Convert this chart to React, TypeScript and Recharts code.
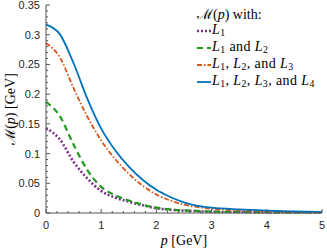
import React from 'react';
import { LineChart, Line, XAxis, YAxis, Label } from 'recharts';

// momentum grid p [GeV]
const momentum = [0, 0.25, 0.5, 0.75, 1, 1.25, 1.5, 1.75, 2, 2.25, 2.5, 2.75, 3, 3.5, 4, 4.5, 5];

// M(p) [GeV]
const withL1 = [0.143, 0.124, 0.086, 0.058, 0.037, 0.026, 0.019, 0.013, 0.008, 0.0055, 0.004, 0.003, 0.002, 0.0015, 0.001, 0.001, 0.001];
const withL1L2 = [0.187, 0.163, 0.115, 0.072, 0.044, 0.03, 0.021, 0.014, 0.009, 0.006, 0.0045, 0.0035, 0.0025, 0.0018, 0.0013, 0.001, 0.001];
const withL1L2L3 = [0.286, 0.262, 0.21, 0.162, 0.122, 0.091, 0.066, 0.046, 0.031, 0.021, 0.014, 0.01, 0.007, 0.0045, 0.003, 0.002, 0.0015];
const withL1L2L3L4 = [0.317, 0.301, 0.252, 0.192, 0.142, 0.106, 0.078, 0.056, 0.039, 0.027, 0.018, 0.012, 0.009, 0.006, 0.004, 0.0025, 0.002];

const xTicks = [0, 1, 2, 3, 4, 5];
const yTicks = [0, 0.05, 0.1, 0.15, 0.2, 0.25, 0.3, 0.35];
const yTickLabels = ['0', '0.05', '0.1', '0.15', '0.2', '0.25', '0.3', '0.35'];

const legendTitle = 'with:';
const seriesLabels = ['L1', 'L1 and L2', 'L1, L2, and L3', 'L1, L2, L3, and L4'];
const seriesKeys = ['l1', 'l12', 'l123', 'l1234'];
const seriesColors = ['#7e2f8e', '#1f9a1f', '#d95319', '#0072bd'];
const seriesDash = ['2 2', '6 4', '5 2 1.5 2', undefined];
const seriesWidth = [2.6, 2.2, 1.8, 1.8];

const data = momentum.map((p, i) => ({
  p,
  l1: withL1[i],
  l12: withL1L2[i],
  l123: withL1L2L3[i],
  l1234: withL1L2L3L4[i],
}));

const minorX: number[] = [];
for (let i = 0; i <= 25; i++) minorX.push(Math.round(i * 20) / 100);
const minorY: number[] = [];
for (let i = 0; i <= 35; i++) minorY.push(i / 100);

const frame = '#555';
const tickFont = '"Liberation Sans", Arial, sans-serif';
const serif = '"Liberation Serif", "Times New Roman", serif';

const isMajor = (v: number, list: number[]) => list.some((t) => Math.abs(t - v) < 1e-6);

const LeftTick = ({ x, y, payload }: any) => {
  const major = isMajor(payload.value, yTicks);
  const idx = yTicks.findIndex((t) => Math.abs(t - payload.value) < 1e-6);
  return (
    <g>
      <line x1={x} x2={x + (major ? 4 : 2)} y1={y} y2={y} stroke={frame} />
      {major && (
        <text x={x - 6} y={y + 4} textAnchor="end" fontSize={11} fill="#262626" fontFamily={tickFont}>
          {yTickLabels[idx]}
        </text>
      )}
    </g>
  );
};

const RightTick = ({ x, y, payload }: any) => {
  const major = isMajor(payload.value, yTicks);
  return <line x1={x - (major ? 4 : 2)} x2={x} y1={y} y2={y} stroke={frame} />;
};

const BottomTick = ({ x, y, payload }: any) => {
  const major = isMajor(payload.value, xTicks);
  return (
    <g>
      <line x1={x} x2={x} y1={y - (major ? 4 : 2)} y2={y} stroke={frame} />
      {major && (
        <text x={x} y={y + 16} textAnchor="middle" fontSize={11} fill="#262626" fontFamily={tickFont}>
          {payload.value}
        </text>
      )}
    </g>
  );
};

const TopTick = ({ x, y, payload }: any) => {
  const major = isMajor(payload.value, xTicks);
  return <line x1={x} x2={x} y1={y} y2={y + (major ? 4 : 2)} stroke={frame} />;
};

const subL = (text: string) =>
  text.split(/(L\d)/).map((part, i) =>
    /^L\d$/.test(part) ? (
      <span key={i}>
        <i>L</i>
        <sub style={{ fontSize: '0.7em', verticalAlign: '-0.25em' }}>{part[1]}</sub>
      </span>
    ) : (
      <span key={i}>{part}</span>
    )
  );

const LegendBox = () => (
  <div
    style={{
      position: 'absolute',
      left: 197,
      top: 8,
      fontFamily: serif,
      fontSize: 14,
      letterSpacing: 0.4,
      lineHeight: '13.6px',
      color: '#000',
      whiteSpace: 'nowrap',
    }}
  >
    <div style={{ marginBottom: 1, letterSpacing: 0 }}>
      <span>ℳ(</span>
      <i>p</i>
      <span>) {legendTitle}</span>
    </div>
    {seriesLabels.map((label, i) => (
      <div key={label} style={{ display: 'flex', alignItems: 'center' }}>
        <svg width={14} height={8} style={{ marginRight: 1 }}>
          <line x1={0} x2={14} y1={4} y2={4} stroke={seriesColors[i]} strokeWidth={seriesWidth[i]} strokeDasharray={seriesDash[i]} />
        </svg>
        <span>{subL(label)}</span>
      </div>
    ))}
  </div>
);

const XTitle = ({ viewBox }: any) => (
  <text x={viewBox.x + viewBox.width / 2} y={245} textAnchor="middle" fontSize={14} fontFamily={serif} fill="#000">
    <tspan fontStyle="italic">p</tspan>
    <tspan> [GeV]</tspan>
  </text>
);

const YTitle = ({ viewBox }: any) => {
  const cy = viewBox.y + viewBox.height / 2;
  return (
    <text x={15} y={cy} transform={`rotate(-90 15 ${cy})`} textAnchor="middle" fontSize={14} fontFamily={serif} fill="#000">
      <tspan>ℳ(</tspan>
      <tspan fontStyle="italic">p</tspan>
      <tspan>) [GeV]</tspan>
    </text>
  );
};

export default function App() {
  return (
    <div style={{ position: 'fixed', left: 0, top: 0, width: 327, height: 249, background: '#fff' }}>
      <LineChart width={327} height={249} data={data} margin={{ top: 5, right: 5, bottom: 0, left: 0 }}>
        <XAxis
          dataKey="p"
          type="number"
          domain={[0, 5]}
          ticks={minorX}
          interval={0}
          height={36}
          stroke={frame}
          tickLine={false}
          tickSize={0}
          tickMargin={0}
          tick={<BottomTick />}
        >
          <Label content={<XTitle />} />
        </XAxis>
        <XAxis
          xAxisId="top"
          orientation="top"
          dataKey="p"
          type="number"
          domain={[0, 5]}
          ticks={minorX}
          interval={0}
          height={0}
          stroke={frame}
          tickLine={false}
          tickSize={0}
          tickMargin={0}
          tick={<TopTick />}
        />
        <YAxis
          type="number"
          domain={[0, 0.35]}
          ticks={minorY}
          interval={0}
          width={46}
          stroke={frame}
          tickLine={false}
          tickSize={0}
          tickMargin={0}
          tick={<LeftTick />}
        >
          <Label content={<YTitle />} />
        </YAxis>
        <YAxis
          yAxisId="right"
          orientation="right"
          type="number"
          domain={[0, 0.35]}
          ticks={minorY}
          interval={0}
          width={0}
          stroke={frame}
          tickLine={false}
          tickSize={0}
          tickMargin={0}
          tick={<RightTick />}
        />
        {seriesKeys.map((key, i) => (
          <Line
            key={key}
            type="monotone"
            dataKey={key}
            stroke={seriesColors[i]}
            strokeWidth={seriesWidth[i]}
            strokeDasharray={seriesDash[i]}
            dot={false}
            isAnimationActive={false}
          />
        ))}
      </LineChart>
      <LegendBox />
    </div>
  );
}
